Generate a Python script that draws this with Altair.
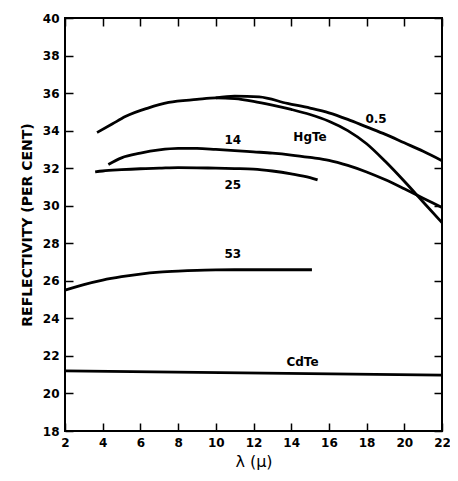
import altair as alt
import pandas as pd

# ---- data ----
hgte_x = [3.7, 4.5, 5.2, 6.4, 7.5, 9.0, 10.0, 11.0, 12.0, 13.0, 14.0, 15.0, 16.0, 17.0, 18.0, 19.0, 20.0, 21.0, 22.0]
hgte_y = [33.9, 34.35, 34.75, 35.2, 35.5, 35.66, 35.74, 35.7, 35.56, 35.36, 35.13, 34.86, 34.5, 34.0, 33.3, 32.35, 31.3, 30.2, 29.1]

s05_x = [10.0, 11.0, 12.3, 13.8, 15.0, 16.0, 17.0, 18.0, 19.0, 20.0, 21.0, 22.0]
s05_y = [35.74, 35.84, 35.8, 35.45, 35.2, 34.95, 34.6, 34.2, 33.8, 33.35, 32.9, 32.4]

s14_x = [4.3, 5.0, 6.0, 7.0, 8.0, 9.0, 10.0, 11.0, 12.0, 13.0, 14.0, 15.0, 16.0, 17.0, 18.0, 19.0, 20.0, 21.0, 22.0]
s14_y = [32.2, 32.55, 32.8, 32.97, 33.05, 33.05, 33.0, 32.94, 32.87, 32.8, 32.7, 32.57, 32.42, 32.15, 31.8, 31.38, 30.9, 30.4, 29.9]

s25_x = [3.6, 4.0, 5.0, 6.0, 7.0, 8.0, 9.0, 10.0, 11.0, 12.0, 13.0, 14.0, 15.0, 15.4]
s25_y = [31.8, 31.85, 31.92, 31.97, 32.0, 32.03, 32.02, 32.0, 31.98, 31.95, 31.85, 31.7, 31.5, 31.38]

s53_x = [2.0, 3.0, 4.0, 5.0, 6.0, 7.0, 8.0, 9.0, 10.0, 11.0, 12.0, 13.0, 14.0, 15.1]
s53_y = [25.5, 25.8, 26.04, 26.22, 26.36, 26.46, 26.52, 26.56, 26.58, 26.59, 26.59, 26.59, 26.59, 26.59]

cdte_x = [2.0, 22.0]
cdte_y = [21.2, 20.98]

label_text = ["0.5", "HgTe", "14", "25", "53", "CdTe"]
label_x = [18.5, 15.0, 10.9, 10.9, 10.9, 14.6]
label_y = [34.6, 33.65, 33.5, 31.1, 27.45, 21.7]

y_ticks = [18, 20, 22, 24, 26, 28, 30, 32, 34, 36, 38, 40]
x_ticks = [2, 4, 6, 8, 10, 12, 14, 16, 18, 20, 22]

# ---- build tables ----
rows = []
for name, xs_, ys_ in [("HgTe", hgte_x, hgte_y), ("0.5", s05_x, s05_y), ("14", s14_x, s14_y),
                       ("25", s25_x, s25_y), ("53", s53_x, s53_y), ("CdTe", cdte_x, cdte_y)]:
    for i, (a, b) in enumerate(zip(xs_, ys_)):
        rows.append({"series": name, "x": a, "y": b, "i": i})
curves = pd.DataFrame(rows)
labels = pd.DataFrame({"t": label_text, "x": label_x, "y": label_y})

W, H = 377, 413
FONT = "DejaVu Sans"
xs = alt.Scale(domain=[2, 22], nice=False, zero=False)
ys = alt.Scale(domain=[18, 40], nice=False, zero=False)

# main axes: pulled 8px inside the frame so that their ticks point inward
x_axis = alt.Axis(
    orient="bottom", values=x_ticks, title="λ (μ)", offset=-8, tickSize=8, tickWidth=1.5,
    tickColor="black", domain=False, grid=False,
    labelOverlap=False, labelFlush=False, labelBound=False,
    labelFont=FONT, labelFontWeight="bold", labelFontSize=12, labelColor="black",
    labelPadding=6, titleFont=FONT, titleFontSize=16, titleFontWeight="normal",
    titleColor="black", titlePadding=5)
y_axis = alt.Axis(
    orient="left", values=y_ticks, title="REFLECTIVITY  (PER CENT)", offset=-8, tickSize=8,
    tickWidth=1.5, tickColor="black", domain=False, grid=False,
    labelOverlap=False, labelFlush=False, labelBound=False,
    labelFont=FONT, labelFontWeight="bold", labelFontSize=12, labelColor="black",
    labelPadding=6, titleFont=FONT, titleFontSize=14, titleFontWeight="bold",
    titleColor="black", titlePadding=8)
# opposite axes: ticks only, inward
x_axis_top = alt.Axis(
    orient="top", values=x_ticks, title="", labels=False, offset=-8, tickSize=8, tickWidth=1.5,
    tickColor="black", domain=False, grid=False)
y_axis_right = alt.Axis(
    orient="right", values=y_ticks, title="", labels=False, offset=-8, tickSize=8, tickWidth=1.5,
    tickColor="black", domain=False, grid=False)

lines = alt.Chart(curves).mark_line(interpolate="monotone", color="black", strokeWidth=2.8).encode(
    x=alt.X("x:Q", scale=xs, axis=x_axis),
    y=alt.Y("y:Q", scale=ys, axis=y_axis),
    detail="series:N",
    order="i:Q",
)

texts = alt.Chart(labels).mark_text(font=FONT, fontWeight="bold", fontSize=12, color="black").encode(
    x=alt.X("x:Q", scale=xs, axis=x_axis_top),
    y=alt.Y("y:Q", scale=ys, axis=y_axis_right),
    text="t:N",
)

chart = alt.layer(lines, texts).resolve_axis(
    x="independent", y="independent"
).properties(
    width=W, height=H,
    background="white",
    autosize=alt.AutoSizeParams(type="none"),
    padding={"left": 57, "top": 10, "right": 8, "bottom": 42},
).configure_view(stroke="black", strokeWidth=2)

chart.save("out.html", embed_options={"renderer": "svg", "actions": False})
